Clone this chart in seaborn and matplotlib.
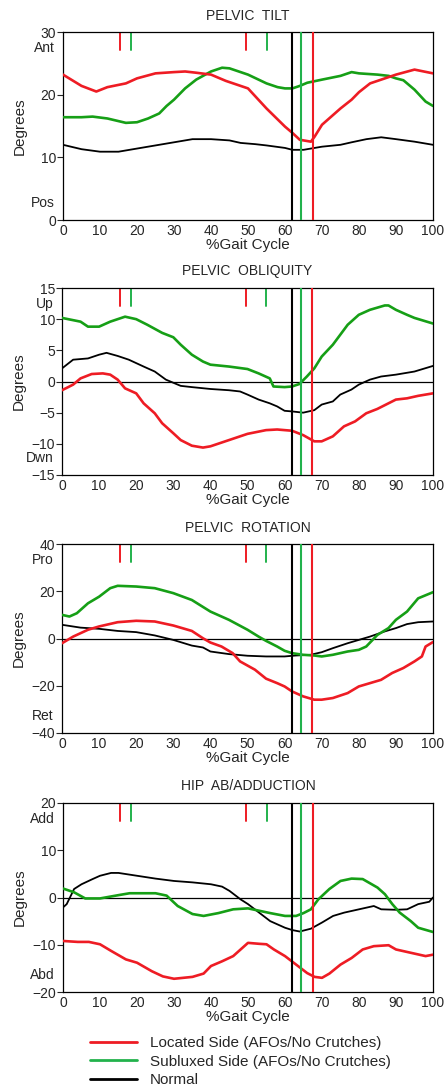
import matplotlib
matplotlib.use("Agg")
import matplotlib.pyplot as plt
from matplotlib.lines import Line2D
import seaborn as sns
import pandas as pd

sns.set_style("white")
plt.rcParams['font.family'] = ['Liberation Sans', 'DejaVu Sans']

RED = '#ee1c24'
GREEN = '#169f16'
GREEN_V = '#22b24c'
BLACK = '#000000'

series_names = ["Located Side (AFOs/No Crutches)", "Subluxed Side (AFOs/No Crutches)", "Normal"]
gait_ticks = [0, 10, 20, 30, 40, 50, 60, 70, 80, 90, 100]

# ---------- Pelvic tilt ----------
tilt_red_x = [0, 5, 9, 12, 17, 20, 25, 30, 33, 36, 40, 44, 50, 55, 60, 62, 64, 67, 68, 70, 75, 78, 80, 83, 87, 90, 95, 100]
tilt_red_y = [23.2, 21.4, 20.5, 21.2, 21.8, 22.6, 23.4, 23.6, 23.7, 23.5, 23.2, 22.2, 21.0, 17.8, 14.9, 13.9, 12.8, 12.5, 13.3, 15.2, 17.8, 19.2, 20.4, 21.8, 22.6, 23.2, 24.0, 23.4]
tilt_green_x = [0, 5, 8, 12, 17, 20, 23, 26, 28, 30, 33, 36, 40, 43, 45, 50, 55, 58, 60, 62, 64, 66, 70, 75, 78, 80, 85, 88, 90, 92, 95, 98, 100]
tilt_green_y = [16.4, 16.4, 16.5, 16.2, 15.5, 15.6, 16.2, 17.0, 18.2, 19.2, 21.0, 22.4, 23.7, 24.3, 24.2, 23.2, 21.8, 21.2, 21.0, 21.0, 21.4, 21.9, 22.4, 23.0, 23.6, 23.4, 23.2, 23.0, 22.6, 22.3, 20.8, 18.9, 18.2]
tilt_black_x = [0, 5, 10, 15, 20, 25, 30, 35, 40, 45, 48, 52, 55, 60, 62, 65, 70, 75, 78, 82, 86, 90, 95, 100]
tilt_black_y = [12.0, 11.3, 10.9, 10.9, 11.4, 11.9, 12.4, 12.9, 12.9, 12.7, 12.3, 12.1, 11.9, 11.5, 11.2, 11.2, 11.7, 12.0, 12.4, 12.9, 13.2, 12.9, 12.5, 12.0]

# ---------- Pelvic obliquity ----------
obl_green_x = [0, 5, 7, 10, 13, 17, 20, 23, 27, 30, 32, 35, 38, 40, 45, 50, 53, 56, 57, 60, 62, 64, 66, 68, 70, 73, 75, 77, 80, 83, 87, 88, 90, 93, 95, 100]
obl_green_y = [10.2, 9.6, 8.8, 8.8, 9.6, 10.4, 10.0, 9.1, 7.8, 7.1, 5.9, 4.3, 3.2, 2.7, 2.4, 2.0, 1.3, 0.5, -0.8, -0.9, -0.8, -0.4, 0.8, 2.1, 4.0, 5.9, 7.5, 9.1, 10.7, 11.5, 12.2, 12.2, 11.5, 10.7, 10.2, 9.3]
obl_black_x = [0, 3, 7, 10, 12, 15, 18, 22, 25, 28, 30, 32, 35, 40, 45, 48, 50, 53, 56, 58, 60, 62, 65, 68, 70, 73, 75, 78, 80, 83, 86, 90, 95, 100]
obl_black_y = [2.1, 3.5, 3.7, 4.3, 4.6, 4.1, 3.5, 2.4, 1.6, 0.3, -0.2, -0.7, -0.9, -1.2, -1.4, -1.6, -2.1, -2.9, -3.5, -4.0, -4.7, -4.8, -5.0, -4.6, -3.7, -3.2, -2.1, -1.3, -0.5, 0.3, 0.8, 1.1, 1.6, 2.5]
obl_red_x = [0, 3, 5, 8, 11, 13, 15, 17, 20, 22, 25, 27, 30, 32, 35, 38, 40, 45, 50, 55, 58, 62, 65, 68, 70, 73, 76, 79, 82, 85, 88, 90, 93, 96, 100]
obl_red_y = [-1.4, -0.5, 0.5, 1.2, 1.3, 1.1, 0.3, -1.1, -1.9, -3.5, -5.1, -6.7, -8.3, -9.4, -10.3, -10.6, -10.4, -9.4, -8.4, -7.8, -7.7, -7.9, -8.6, -9.6, -9.6, -8.8, -7.2, -6.4, -5.1, -4.4, -3.5, -2.9, -2.7, -2.3, -1.9]

# ---------- Pelvic rotation ----------
rot_green_x = [0, 2, 4, 7, 10, 13, 15, 20, 25, 30, 35, 40, 45, 50, 53, 55, 58, 60, 62, 65, 68, 70, 73, 77, 80, 82, 85, 88, 90, 93, 96, 100]
rot_green_y = [10.0, 9.3, 10.7, 14.9, 17.7, 21.3, 22.3, 22.0, 21.3, 19.2, 16.3, 11.4, 7.9, 3.7, 0.8, -1.0, -3.4, -5.2, -6.2, -6.9, -7.2, -7.6, -6.9, -5.5, -4.8, -3.4, 1.5, 4.4, 7.9, 11.4, 17.0, 19.6]
rot_black_x = [0, 5, 10, 15, 20, 25, 30, 35, 38, 40, 45, 50, 55, 60, 63, 67, 70, 73, 77, 80, 83, 87, 90, 93, 96, 100]
rot_black_y = [5.8, 4.6, 4.1, 3.2, 2.7, 1.3, -0.6, -3.0, -3.8, -5.5, -6.6, -7.3, -7.6, -7.6, -7.2, -6.9, -5.8, -4.1, -2.0, -0.6, 0.8, 3.0, 4.4, 6.1, 6.9, 7.2]
rot_red_x = [0, 3, 7, 10, 15, 20, 25, 30, 35, 38, 40, 43, 46, 48, 52, 55, 58, 60, 62, 65, 68, 70, 73, 77, 80, 83, 86, 89, 92, 95, 97, 98, 100]
rot_red_y = [-2.0, 0.8, 3.7, 5.1, 6.9, 7.5, 7.2, 5.5, 3.2, 0.1, -1.7, -3.4, -6.2, -9.7, -13.2, -17.0, -18.9, -20.3, -22.4, -24.5, -25.9, -25.9, -25.2, -23.1, -20.3, -18.9, -17.5, -14.6, -12.5, -9.7, -7.6, -3.4, -1.5]

# ---------- Hip ab/adduction ----------
hip_black_x = [0, 1, 3, 5, 8, 10, 13, 15, 20, 25, 30, 35, 40, 43, 45, 48, 50, 53, 56, 60, 62, 64, 67, 70, 73, 76, 80, 84, 86, 90, 93, 96, 99, 100]
hip_black_y = [-2.1, -1.4, 1.8, 2.8, 3.9, 4.6, 5.2, 5.2, 4.6, 4.0, 3.5, 3.2, 2.8, 2.3, 1.4, -0.4, -1.4, -3.2, -5.0, -6.4, -6.9, -7.2, -6.6, -5.3, -3.9, -3.2, -2.5, -1.8, -2.5, -2.6, -2.5, -1.4, -0.9, 0.0]
hip_green_x = [0, 3, 6, 10, 15, 18, 25, 28, 31, 35, 38, 42, 46, 50, 53, 56, 60, 63, 65, 67, 69, 72, 75, 78, 81, 85, 87, 89, 91, 94, 96, 100]
hip_green_y = [1.9, 1.1, -0.2, -0.2, 0.5, 0.9, 0.9, 0.4, -1.8, -3.5, -3.9, -3.3, -2.5, -2.3, -2.8, -3.3, -3.9, -3.9, -3.3, -2.5, -0.4, 1.8, 3.5, 4.0, 3.9, 2.1, 0.7, -1.4, -3.2, -5.0, -6.4, -7.3]
hip_red_x = [0, 4, 7, 10, 13, 17, 20, 24, 27, 30, 35, 38, 40, 43, 46, 48, 50, 53, 55, 57, 60, 63, 66, 68, 70, 72, 75, 78, 81, 84, 88, 90, 94, 98, 100]
hip_red_y = [-9.2, -9.4, -9.4, -9.9, -11.3, -13.1, -13.8, -15.6, -16.7, -17.2, -16.8, -16.1, -14.5, -13.5, -12.4, -11.0, -9.6, -9.8, -9.9, -11.0, -12.4, -14.2, -16.0, -16.8, -17.0, -16.1, -14.2, -12.8, -11.0, -10.3, -10.1, -11.0, -11.7, -12.4, -12.1]

# ---------- gait events (% gait cycle) ----------
red_short_events = [15.5, 49.5]
green_short_events = [18.5, 55.0]
black_toe_off = 62.0
green_toe_off = 64.3
red_toe_off = 67.5

panels = [
    dict(title="PELVIC  TILT", ylim=(0, 30), yticks=[0, 10, 20, 30], top="Ant", bottom="Pos", zero=False,
         red=(tilt_red_x, tilt_red_y), green=(tilt_green_x, tilt_green_y), black=(tilt_black_x, tilt_black_y),
         rect=[63/448, 1-220/1089, 370/448, 188/1089]),
    dict(title="PELVIC  OBLIQUITY", ylim=(-15, 15), yticks=[-15, -10, -5, 0, 5, 10, 15], top="Up", bottom="Dwn", zero=True,
         red=(obl_red_x, obl_red_y), green=(obl_green_x, obl_green_y), black=(obl_black_x, obl_black_y),
         rect=[62/448, 1-475/1089, 371/448, 187/1089]),
    dict(title="PELVIC  ROTATION", ylim=(-40, 40), yticks=[-40, -20, 0, 20, 40], top="Pro", bottom="Ret", zero=True,
         red=(rot_red_x, rot_red_y), green=(rot_green_x, rot_green_y), black=(rot_black_x, rot_black_y),
         rect=[62/448, 1-733/1089, 371/448, 189/1089]),
    dict(title="HIP  AB/ADDUCTION", ylim=(-20, 20), yticks=[-20, -10, 0, 10, 20], top="Add", bottom="Abd", zero=True,
         red=(hip_red_x, hip_red_y), green=(hip_green_x, hip_green_y), black=(hip_black_x, hip_black_y),
         rect=[63/448, 1-992/1089, 370/448, 189/1089]),
]

fig = plt.figure(figsize=(4.48, 10.89), dpi=100)

for p in panels:
    ax = fig.add_axes(p["rect"])
    frames = []
    for key, name in zip(["red", "green", "black"], series_names):
        xs, ys = p[key]
        frames.append(pd.DataFrame({"pct": xs, "deg": ys, "series": name}))
    df = pd.concat(frames, ignore_index=True)
    if p["zero"]:
        ax.axhline(0, color=BLACK, lw=0.9, zorder=1)
    sns.lineplot(data=df[df.series == series_names[2]], x="pct", y="deg", color=BLACK, lw=1.3,
                 estimator=None, sort=False, ax=ax, legend=False, zorder=3)
    sns.lineplot(data=df[df.series == series_names[1]], x="pct", y="deg", color=GREEN, lw=1.9,
                 estimator=None, sort=False, ax=ax, legend=False, zorder=3)
    sns.lineplot(data=df[df.series == series_names[0]], x="pct", y="deg", color=RED, lw=1.9,
                 estimator=None, sort=False, ax=ax, legend=False, zorder=3)
    for e in red_short_events:
        ax.axvline(e, ymin=0.905, ymax=1, color=RED, lw=1.4)
    for e in green_short_events:
        ax.axvline(e, ymin=0.905, ymax=1, color=GREEN_V, lw=1.4)
    ax.axvline(black_toe_off, color=BLACK, lw=1.5, zorder=4)
    ax.axvline(green_toe_off, color=GREEN_V, lw=1.5, zorder=4)
    ax.axvline(red_toe_off, color=RED, lw=1.5, zorder=4)

    ax.set_xlim(0, 100)
    ax.set_ylim(*p["ylim"])
    ax.set_xticks(gait_ticks)
    ax.set_yticks(p["yticks"])
    ax.tick_params(axis='x', length=0, pad=3, labelsize=10)
    ax.tick_params(axis='y', length=4, pad=1, labelsize=10, direction='out', left=True)
    for s in ax.spines.values():
        s.set_color(BLACK)
        s.set_linewidth(0.9)
    ax.set_title(p["title"], fontsize=10, pad=9)
    ax.set_xlabel("%Gait Cycle", fontsize=11, labelpad=0)
    ax.set_ylabel("Degrees", fontsize=11)
    ax.yaxis.set_label_coords(-0.098, 0.5)
    ax.text(-0.022, 0.915, p["top"], transform=ax.transAxes, ha='right', va='center', fontsize=10)
    ax.text(-0.022, 0.09, p["bottom"], transform=ax.transAxes, ha='right', va='center', fontsize=10)

handles = [Line2D([], [], color=RED, lw=2), Line2D([], [], color=GREEN_V, lw=2), Line2D([], [], color=BLACK, lw=2)]
fig.legend(handles, series_names, loc='upper left', bbox_to_anchor=(90/448, 1-1036/1089),
           frameon=False, fontsize=11, handlelength=3.07, handletextpad=0.85, labelspacing=0.3,
           borderpad=0, borderaxespad=0)

fig.savefig("out.png", dpi=100)
